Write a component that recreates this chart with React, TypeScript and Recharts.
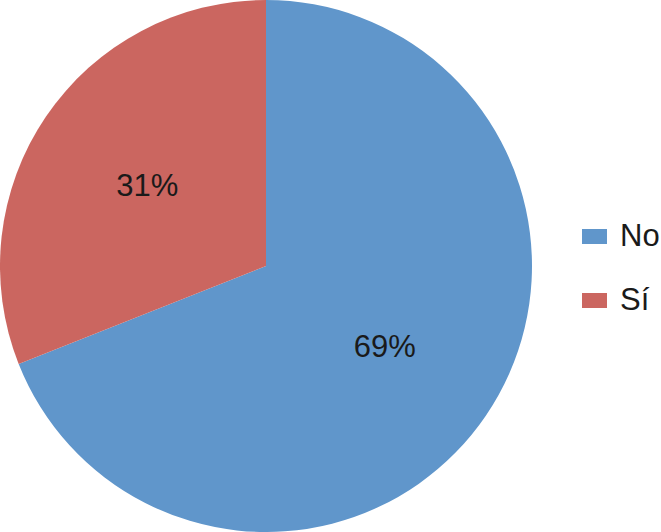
import React from "react";
import { PieChart, Pie, Cell, Legend } from "recharts";

const categories = ["No", "Sí"];
const values = [69, 31];
const colors = ["#6096CB", "#CB6660"];

const data = categories.map((name, i) => ({ name, value: values[i] }));

const RAD = Math.PI / 180;

const renderLabel = (props: any) => {
  const { cx, cy, midAngle, outerRadius, percent } = props;
  const r = outerRadius * 0.54;
  const x = cx + r * Math.cos(-midAngle * RAD);
  const y = cy + r * Math.sin(-midAngle * RAD);
  return (
    <text
      x={x}
      y={y}
      fill="#1a1a1a"
      textAnchor="middle"
      dominantBaseline="central"
      fontSize={31}
      fontFamily="Liberation Sans, Arial, sans-serif"
    >
      {`${Math.round(percent * 100)}%`}
    </text>
  );
};

const renderLegend = () => (
  <div style={{ fontFamily: "Liberation Sans, Arial, sans-serif" }}>
    {categories.map((c, i) => (
      <div
        key={c}
        style={{ display: "flex", alignItems: "center", height: 64 }}
      >
        <div
          style={{
            width: 25,
            height: 15,
            background: colors[i],
            marginRight: 13,
          }}
        />
        <span style={{ fontSize: 31, color: "#1a1a1a" }}>{c}</span>
      </div>
    ))}
  </div>
);

export default function App() {
  return (
    <div style={{ position: "absolute", left: 0, top: 0, background: "#fff" }}>
      <PieChart
        width={661}
        height={532}
        margin={{ top: 0, right: 0, bottom: 0, left: 0 }}
      >
        <Pie
          data={data}
          dataKey="value"
          nameKey="name"
          cx={266}
          cy={266}
          outerRadius={266}
          startAngle={90}
          endAngle={-270}
          stroke="none"
          labelLine={false}
          label={renderLabel}
          isAnimationActive={false}
        >
          {data.map((d, i) => (
            <Cell key={d.name} fill={colors[i]} />
          ))}
        </Pie>
        <Legend
          content={renderLegend}
          wrapperStyle={{ left: 582, top: 204, width: 80 }}
        />
      </PieChart>
    </div>
  );
}
